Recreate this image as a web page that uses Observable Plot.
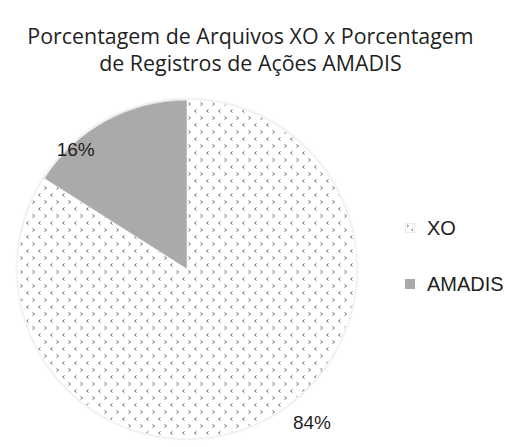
<!DOCTYPE html>
<html><head><meta charset="utf-8">
<script src="https://cdn.jsdelivr.net/npm/d3@7"></script>
<script src="https://cdn.jsdelivr.net/npm/@observablehq/plot@0.6"></script>
<style>
body{margin:0;background:#fff;width:510px;height:447px;overflow:hidden;position:relative;}
#title{box-sizing:border-box;height:80px;padding-top:22px;padding-right:9px;text-align:center;font-family:"Open Sans",sans-serif;font-size:21.4px;line-height:27px;color:#1f1f1f;}
#legend{position:absolute;left:405px;top:213px;font-family:"Liberation Sans",Arial,sans-serif;font-size:20px;color:#1f1f1f;}
.li{display:flex;align-items:center;height:30px;margin-bottom:26px;}
.sw{width:10px;height:10px;margin-right:12px;box-sizing:border-box;}
</style></head><body>
<div id="title">Porcentagem de Arquivos XO x Porcentagem<br>de Registros de Ações AMADIS</div>
<div id="chart"></div>
<div id="legend"></div>
<script>
const categories = ["XO", "AMADIS"];
const values = [84, 16];
const labels = ["84%", "16%"];
const fills = ["url(#xoPattern)", "#aaaaaa"];

const pie = d3.pie().sort(null).value(d => d.value)(categories.map((c, i) => ({category: c, value: values[i], label: labels[i], fill: fills[i]})));
// label placement (angle in degrees clockwise from 12 o'clock, radius as fraction)
const labelPlace = {XO: {angle: 141, r: 1.17}, AMADIS: {angle: 317, r: 0.97}};
const labelData = pie.map(p => {
  const lp = labelPlace[p.data.category];
  const a = lp.angle * Math.PI / 180;
  return {x: Math.sin(a) * lp.r, y: Math.cos(a) * lp.r, label: p.data.label};
});

const chevrons = '<path d="M1.5,1.5 L3.5,3 L1.5,4.5" fill="none" stroke="#707070" stroke-width="1"/>' +
                 '<path d="M9.5,8.5 L7.5,10 L9.5,11.5" fill="none" stroke="#707070" stroke-width="1"/>';

const cx = 187, cy = 189, R = 169;
const chart = Plot.plot({
  width: 510, height: 367,
  margin: 0,
  x: {domain: [-1, 1], range: [cx - R, cx + R], axis: null},
  y: {domain: [-1, 1], range: [cy + R, cy - R], axis: null},
  marks: [
    (index, scales) => {
      const ox = scales.x(0), oy = scales.y(0);
      const r = scales.x(1) - scales.x(0);
      const g = d3.create("svg:g");
      const defs = g.append("defs");
      const pat = defs.append("pattern").attr("id", "xoPattern").attr("patternUnits", "userSpaceOnUse")
        .attr("width", 12).attr("height", 14);
      pat.append("rect").attr("width", 12).attr("height", 14).attr("fill", "#fff");
      pat.append("g").html(chevrons);
      const flt = defs.append("filter").attr("id", "sh").attr("x", "-10%").attr("y", "-10%").attr("width", "120%").attr("height", "120%");
      flt.append("feGaussianBlur").attr("in", "SourceAlpha").attr("stdDeviation", 1.5).attr("result", "b");
      flt.append("feFlood").attr("flood-color", "#000").attr("flood-opacity", 0.25);
      flt.append("feComposite").attr("in2", "b").attr("operator", "in").attr("result", "s");
      const m = flt.append("feMerge");
      m.append("feMergeNode").attr("in", "s");
      m.append("feMergeNode").attr("in", "SourceGraphic");
      const arc = d3.arc().innerRadius(0).outerRadius(r);
      g.append("g").attr("transform", `translate(${ox},${oy})`).attr("filter", "url(#sh)")
        .selectAll("path").data(pie).join("path")
        .attr("d", arc).attr("fill", d => d.data.fill).attr("stroke", "#fff").attr("stroke-width", 0.5);
      return g.node();
    },
    Plot.text(labelData, {x: "x", y: "y", text: "label", fontSize: 19, fill: "#1f1f1f", fontFamily: "Liberation Sans, Arial, sans-serif"})
  ]
});
document.getElementById("chart").appendChild(chart);

const legend = d3.select("#legend");
categories.forEach((c, i) => {
  const row = legend.append("div").attr("class", "li");
  const sw = row.append("div").attr("class", "sw");
  if (i === 0) {
    sw.style("border", "1px solid #ececec");
    sw.append("svg").attr("width", 8).attr("height", 8).style("display", "block")
      .html('<path d="M1,0.5 L2.5,1.8 L1,3" fill="none" stroke="#707070" stroke-width="0.9"/><path d="M7,4.5 L5.5,5.8 L7,7" fill="none" stroke="#707070" stroke-width="0.9"/>');
  } else sw.style("background", fills[i]);
  row.append("span").text(c);
});
</script>
</body></html>
